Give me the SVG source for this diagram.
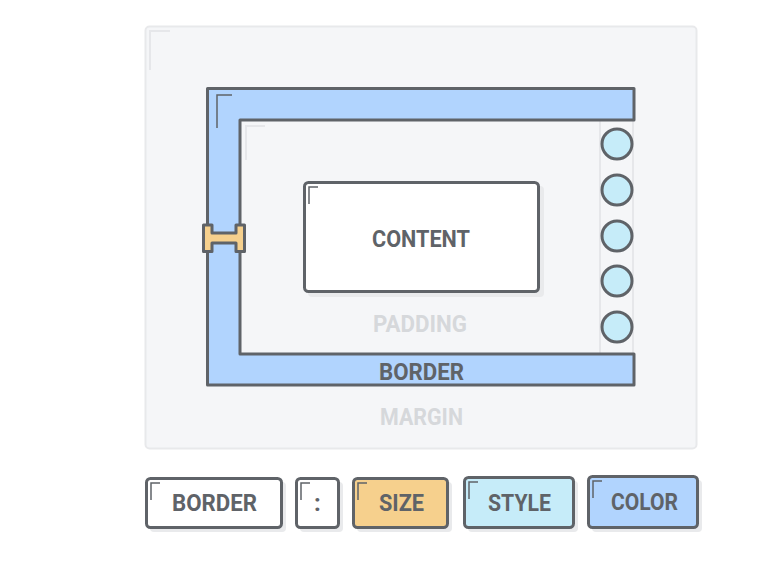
<svg xmlns="http://www.w3.org/2000/svg" width="774" height="563" viewBox="0 0 774 563">
  <style>
    .ink { stroke: #5f6368; stroke-width: 3; stroke-linejoin: round; }
    .tick { fill: none; stroke: #5f6368; stroke-width: 1.5; }
    .tick-faint { fill: none; stroke: #e6e7ea; stroke-width: 2; }
    .shadow { fill: #e9eaec; }
    .label { font-family: Roboto, "Liberation Sans", sans-serif; font-weight: 700; font-size: 24px; text-anchor: middle; }
    .dark { fill: #5f6368; }
    .faint { fill: #d6d8db; }
  </style>
  <rect width="774" height="563" fill="#ffffff"/>

  <!-- margin area -->
  <g id="margin">
    <rect x="145.5" y="26.5" width="551" height="422" rx="4" fill="#f5f6f8" stroke="#e8e9eb" stroke-width="2"/>
    <path class="tick-faint" d="M150 70 V31 H170"/>
    <text class="label faint" x="421.5" y="425" textLength="83" lengthAdjust="spacingAndGlyphs">MARGIN</text>
  </g>

  <!-- padding area -->
  <g id="padding">
    <path class="tick-faint" d="M246 160 V126 H265"/>
    <line x1="600" y1="120" x2="600" y2="354" stroke="#e6e7ea" stroke-width="2"/>
    <line x1="633" y1="120" x2="633" y2="354" stroke="#e6e7ea" stroke-width="2"/>
    <text class="label faint" x="420" y="332" textLength="94" lengthAdjust="spacingAndGlyphs">PADDING</text>
  </g>

  <!-- border frame: solid on three sides -->
  <g id="border">
    <path class="ink" fill="#b1d4fe" d="M207.5 88.5 H634 V120 H240 V354 H634 V385 H207.5 Z"/>
    <path class="tick" d="M217 128 V95 H232"/>
    <text class="label dark" x="421.5" y="380" textLength="85" lengthAdjust="spacingAndGlyphs">BORDER</text>
  </g>

  <!-- dotted right edge -->
  <g id="dots" class="ink" fill="#c6ecf9">
    <circle cx="617" cy="144" r="15"/>
    <circle cx="617" cy="190" r="15"/>
    <circle cx="617" cy="236" r="15"/>
    <circle cx="617" cy="281" r="15"/>
    <circle cx="617" cy="327" r="15"/>
  </g>

  <!-- width marker -->
  <g id="size-marker">
    <path class="ink" fill="#f6d08d" stroke-width="2.5" d="M203.5 225 H212 V233 H236 V225 H244.5 V251.5 H236 V243 H212 V251.5 H203.5 Z"/>
  </g>

  <!-- content box -->
  <g id="content">
    <rect class="shadow" x="308" y="186" width="236" height="111" rx="4"/>
    <rect class="ink" fill="#ffffff" x="304.5" y="182.5" width="234" height="109" rx="4"/>
    <path class="tick" d="M309 204 V187 H318"/>
    <text class="label dark" x="421" y="247" textLength="98" lengthAdjust="spacingAndGlyphs">CONTENT</text>
  </g>

  <!-- property tokens -->
  <g id="token-border">
    <rect class="shadow" x="150" y="482" width="136" height="50" rx="4"/>
    <rect class="ink" fill="#ffffff" x="146.5" y="478.5" width="135" height="49" rx="4"/>
    <path class="tick" d="M151 500 V483 H160"/>
    <text class="label dark" x="214.5" y="511" textLength="85" lengthAdjust="spacingAndGlyphs">BORDER</text>
  </g>
  <g id="token-colon">
    <rect class="shadow" x="300" y="482" width="43" height="50" rx="4"/>
    <rect class="ink" fill="#ffffff" x="296.5" y="478.5" width="42" height="49" rx="4"/>
    <path class="tick" d="M301 500 V483 H310"/>
    <text class="label dark" x="317.5" y="511">:</text>
  </g>
  <g id="token-size">
    <rect class="shadow" x="357" y="482" width="95" height="50" rx="4"/>
    <rect class="ink" fill="#f6d08d" x="353.5" y="478.5" width="94" height="49" rx="4"/>
    <path class="tick" d="M358 500 V483 H367"/>
    <text class="label dark" x="401.5" y="511" textLength="45" lengthAdjust="spacingAndGlyphs">SIZE</text>
  </g>
  <g id="token-style">
    <rect class="shadow" x="468" y="481" width="110" height="51" rx="4"/>
    <rect class="ink" fill="#c6ecf9" x="464.5" y="477.5" width="109" height="50" rx="4"/>
    <path class="tick" d="M469 499 V482 H478"/>
    <text class="label dark" x="519.5" y="511" textLength="63" lengthAdjust="spacingAndGlyphs">STYLE</text>
  </g>
  <g id="token-color">
    <rect class="shadow" x="592" y="480" width="110" height="52" rx="4"/>
    <rect class="ink" fill="#b1d4fe" x="588.5" y="476.5" width="109" height="51" rx="4"/>
    <path class="tick" d="M593 498 V481 H602"/>
    <text class="label dark" x="644.5" y="510" textLength="67" lengthAdjust="spacingAndGlyphs">COLOR</text>
  </g>
</svg>
